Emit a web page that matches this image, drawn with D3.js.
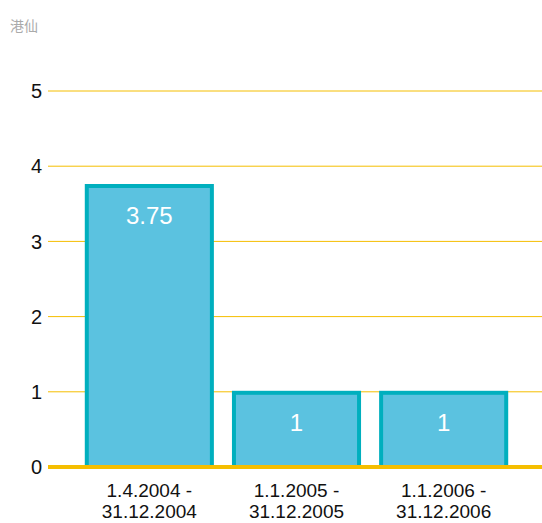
<!DOCTYPE html>
<html><head><meta charset="utf-8">
<script src="https://cdn.jsdelivr.net/npm/d3@7"></script>
<style>body{margin:0;background:#fff;}svg{display:block;font-family:"Liberation Sans","Noto Sans",sans-serif;}</style>
</head><body><svg id="c" width="542" height="523"></svg>
<script>
const categories = ["1.4.2004 -|31.12.2004", "1.1.2005 -|31.12.2005", "1.1.2006 -|31.12.2006"];
const values = [3.75, 1, 1];
const valueLabels = ["3.75", "1", "1"];
const yTicks = [0, 1, 2, 3, 4, 5];
const unitLabel = "港仙";

const svg = d3.select("#c");
const y = d3.scaleLinear().domain([0, 5]).range([467, 91]);
const x = d3.scaleBand().domain(categories).range([50, 543]).paddingInner(0.15).paddingOuter(0.25);

svg.append("text").attr("x", 10).attr("y", 31).attr("fill", "#aaa").attr("font-size", 14)
  .attr("font-family", "'Noto Sans CJK SC', sans-serif").text(unitLabel);

const g = svg.append("g");
g.selectAll("line.grid").data(yTicks.filter(d => d > 0)).join("line")
  .attr("x1", 48).attr("x2", 542).attr("y1", d => y(d)).attr("y2", d => y(d))
  .attr("stroke", "#F5BE00").attr("stroke-width", 1);
g.selectAll("text.yt").data(yTicks).join("text")
  .attr("x", 42).attr("y", d => y(d)).attr("dy", "0.36em").attr("text-anchor", "end")
  .attr("font-size", 20).attr("fill", "#111").text(d => d);

g.selectAll("rect.bar").data(values).join("rect")
  .attr("x", (d, i) => x(categories[i])).attr("width", x.bandwidth())
  .attr("y", d => y(d) + 1).attr("height", d => y(0) - y(d) - 1)
  .attr("fill", "#5BC2E0").attr("stroke", "#00AFBE").attr("stroke-width", 4);

g.append("line").attr("x1", 48).attr("x2", 542).attr("y1", y(0)).attr("y2", y(0))
  .attr("stroke", "#F5BE00").attr("stroke-width", 4);

g.selectAll("text.vl").data(values).join("text")
  .attr("x", (d, i) => x(categories[i]) + x.bandwidth() / 2).attr("y", d => y(d) + 39)
  .attr("text-anchor", "middle").attr("fill", "#fff").attr("font-size", 24)
  .text((d, i) => valueLabels[i]);

categories.forEach((c, i) => {
  c.split("|").forEach((p, j) => {
    g.append("text").attr("text-anchor", "middle").attr("font-size", 19).attr("fill", "#111")
      .attr("x", x(c) + x.bandwidth() / 2).attr("y", 496.5 + j * 21.5).text(p);
  });
});
</script></body></html>
